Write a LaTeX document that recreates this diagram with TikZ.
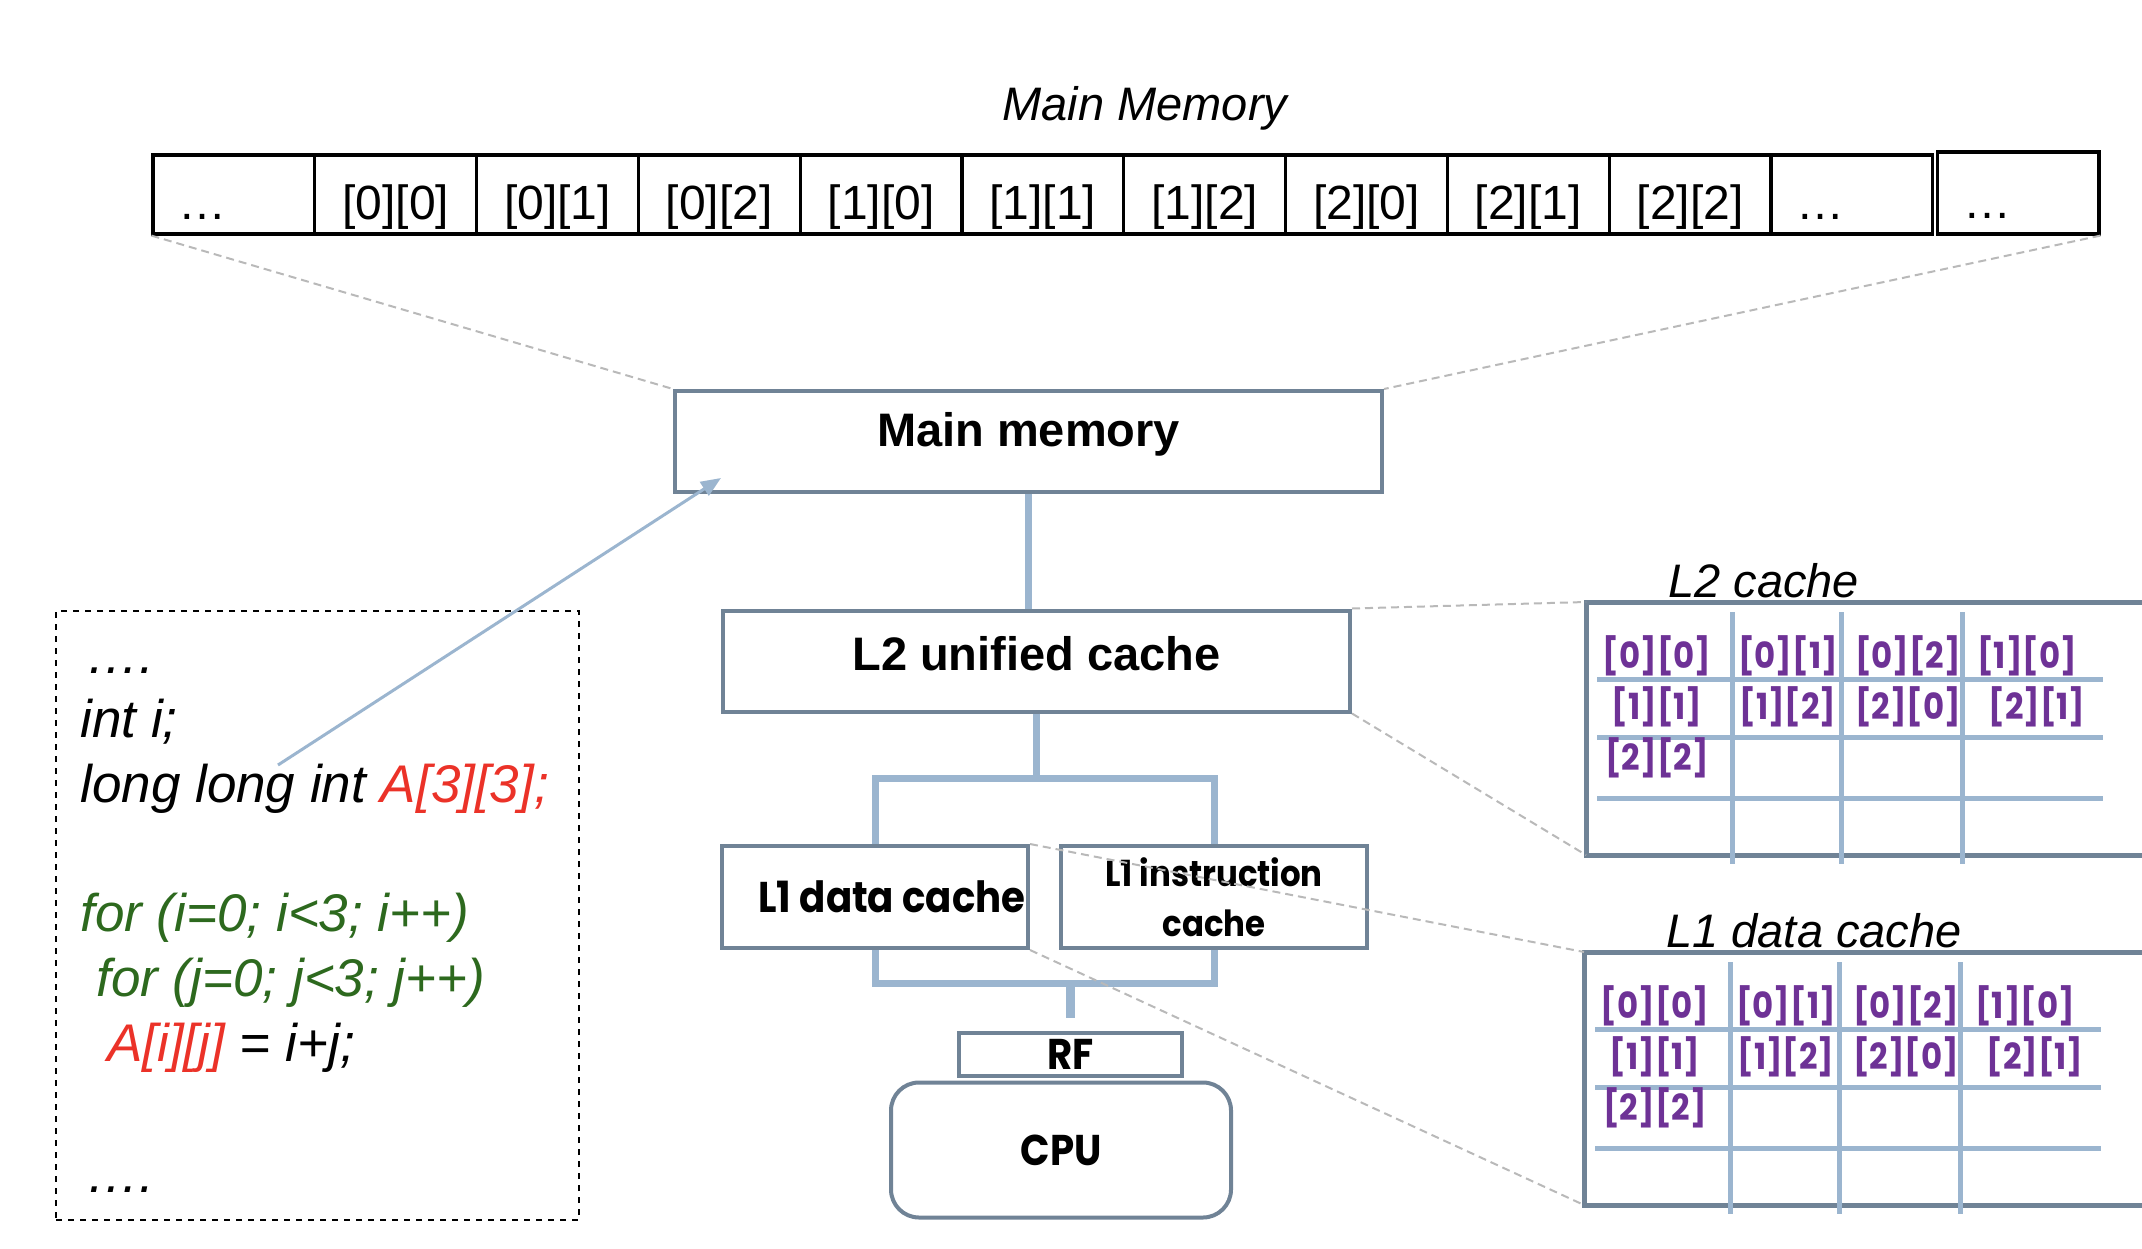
\documentclass[tikz,border=0pt]{standalone}
\usepackage{fontspec}
\setmainfont{Liberation Sans}
\newfontfamily\gothic[FakeStretch=0.9]{Poppins}
\usetikzlibrary{arrows.meta}

\definecolor{boxline}{RGB}{112,131,150}
\definecolor{linkblue}{RGB}{155,181,207}
\definecolor{projgray}{RGB}{185,185,185}
\definecolor{codered}{RGB}{235,50,40}
\definecolor{codegreen}{RGB}{45,105,30}
\definecolor{cellpurple}{RGB}{110,50,150}

\tikzset{
  memcell/.style={draw, line width=1.6pt, minimum width=80.9pt, minimum height=39.5pt, inner sep=0pt,
    text height=25pt, text depth=0pt, font=\fontsize{24}{28}\selectfont},
  dotcell/.style={align=left, text width=55pt},
  unitbox/.style={draw=boxline, line width=2pt, inner sep=0pt, font=\bfseries\fontsize{23.5}{28}\selectfont},
  gunitbox/.style={unitbox, font=\gothic\bfseries\fontsize{21.5}{25}\selectfont},
  linkwire/.style={draw=linkblue, line width=3.5pt},
  projline/.style={draw=projgray, line width=1pt, dash pattern=on 4pt off 2.5pt},
  codeline/.style={anchor=base west, inner sep=0pt, font=\itshape\fontsize{26.5}{30}\selectfont},
  panelname/.style={anchor=base west, inner sep=0pt, font=\itshape\fontsize{23.5}{28}\selectfont},
  panelframe/.style={draw=boxline, line width=2.5pt},
  gridline/.style={draw=linkblue, line width=2.5pt},
  slot/.style={text=cellpurple, inner sep=0pt, font=\gothic\bfseries\fontsize{18}{20}\selectfont},
}

\begin{document}
\begin{tikzpicture}[x=0.5pt,y=-0.5pt]
\useasboundingbox (0,0) rectangle (2142,1248);

\node[panelname, anchor=base] (memtitle) at (1145,120) {Main Memory};
\node[memcell, dotcell] (m0) at (233.9,194.5) {…};
\foreach \cell [count=\i] in {{[0][0]},{[0][1]},{[0][2]},{[1][0]},{[1][1]},{[1][2]},{[2][0]},{[2][1]},{[2][2]}}
  \node[memcell] (m\i) at ({233.9+161.8*\i},194.5) {\cell};
\node[memcell, dotcell] (m10) at (1851.9,194.5) {…};
\node[memcell, dotcell, minimum height=41pt] (mend) at (2018,193) {…};

\node[unitbox, minimum width=353.5pt, minimum height=50.5pt] (mainmem) at (1028.5,441.5) {\raisebox{12pt}{Main memory}};
\node[unitbox, minimum width=313.5pt, minimum height=50.5pt] (l2box) at (1036.5,661) {\raisebox{8pt}{L2 unified cache}};
\node[gunitbox, minimum width=153pt, minimum height=51pt] (l1d) at (875,897) {\hspace*{17pt}L1 data cache};
\node[gunitbox, minimum width=153pt, minimum height=51pt, align=center,
  font=\gothic\bfseries\fontsize{18}{25}\selectfont] (l1i) at (1214,897) {L1 instruction\\cache};
\node[gunitbox, minimum width=111.5pt, minimum height=21.5pt] (rf) at (1070.5,1054.5) {RF};
\node[gunitbox, minimum width=170pt, minimum height=67.5pt, rounded corners=14pt] (cpu) at (1061,1150) {CPU};

\coordinate (split) at (1036.5,778);
\coordinate (merge) at (1070.5,983);
\draw[linkwire] (mainmem.south) -- (mainmem.south |- l2box.north);
\draw[linkwire] (l2box.south) -- (split);
\draw[linkwire] (l1d.north) |- (split) -| (l1i.north);
\draw[linkwire] (l1d.south) |- (merge) -| (l1i.south);
\draw[linkwire, line width=4.5pt, shorten >=6.5pt] (merge) -- (rf.north);

\node[draw, dashed, line width=0.8pt, minimum width=261.5pt, minimum height=304.5pt] (codebox) at (317.5,915.5) {};
\node[codeline] (dotsTop) at (86,673) {….};
\node[codeline] (declI) at (80,737) {int i;};
\node[codeline] (declA) at (80,802) {long long int \textcolor{codered}{A[3][3];}};
\node[codeline, text=codegreen] (loopI) at (80,931) {for (i=0; i<3; i++)};
\node[codeline, text=codegreen] (loopJ) at (96,996) {for (j=0; j<3; j++)};
\node[codeline] (body) at (107,1061) {\textcolor{codered}{A[i][j]} = i+j;};
\node[codeline] (dotsBot) at (86,1192) {….};

\coordinate (codeTip) at (278,765);
\coordinate (memIn) at (721,478);
\draw[linkwire, line width=1.5pt, -{Triangle[length=10pt,width=8pt]}] (codeTip) -- (memIn);

\foreach \px/\py/\pn/\ptitle in {1586/602/ltwo/L2 cache, 1584/952/lone/L1 data cache} {
  \begin{scope}[shift={(\px,\py)}]
  \draw[panelframe] ({2142-\px},0) -- (0,0) -- (0,253) -- ({2142-\px},253);
  \foreach \gx in {146,255,376}
    \draw[gridline] (\gx,10) -- (\gx,262);
  \foreach \gy in {77,135,196}
    \draw[gridline] (11,\gy) -- (517,\gy);
  \coordinate (\pn-tl) at (0,0);
  \coordinate (\pn-bl) at (0,253);
  \node[panelname] (\pn-title) at (82,-5) {\ptitle};
  \foreach \slotname/\sx/\sy [count=\k] in {{[0][0]}/71/54,{[0][1]}/202/54,{[0][2]}/322/54,{[1][0]}/441/54,
      {[1][1]}/71/105,{[1][2]}/202/105,{[2][0]}/322/105,{[2][1]}/451/105,{[2][2]}/71/156}
    \node[slot] (\pn-s\k) at (\sx,\sy) {\slotname};
  \end{scope}
}

\draw[projline] (m0.south west) -- (mainmem.north west);
\draw[projline] (mend.south east) -- (mainmem.north east);
\draw[projline] (l2box.north east) -- (ltwo-tl);
\draw[projline] (l2box.south east) -- (ltwo-bl);
\draw[projline] (l1d.north east) -- (lone-tl);
\draw[projline] (l1d.south east) -- (lone-bl);
\end{tikzpicture}
\end{document}
